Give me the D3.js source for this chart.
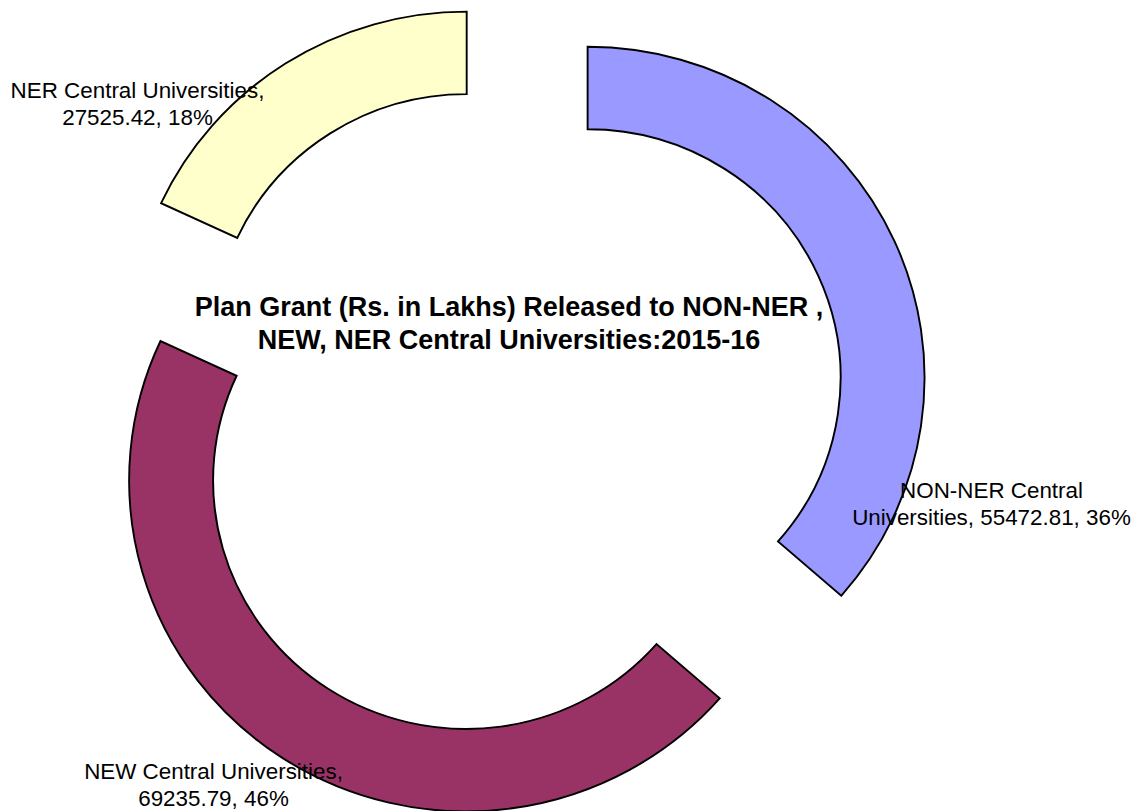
<!DOCTYPE html>
<html>
<head>
<meta charset="utf-8">
<script src="https://cdn.jsdelivr.net/npm/d3@7/dist/d3.min.js"></script>
<style>
  html, body { margin: 0; padding: 0; background: #ffffff; }
  svg { display: block; }
  text { font-family: "Liberation Sans", Arial, Helvetica, sans-serif; fill: #000; }
</style>
</head>
<body>
<svg id="chart" width="1134" height="811"></svg>
<script>
// ---- data ----
const categories = ["NON-NER Central Universities", "NEW Central Universities", "NER Central Universities"];
const values = [55472.81, 69235.79, 27525.42];
const percentLabels = ["36%", "46%", "18%"];
const colors = ["#9999FF", "#993366", "#FFFFCC"];
const titleLines = ["Plan Grant (Rs. in Lakhs) Released to NON-NER ,", "NEW, NER Central Universities:2015-16"];
// data label lines (as shown in the chart)
const labelLines = [
  ["NON-NER Central", "Universities, 55472.81, 36%"],
  ["NEW Central Universities,", "69235.79, 46%"],
  ["NER Central Universities,", "27525.42, 18%"]
];

// ---- layout ----
const W = 1134, H = 811;
const center = { x: 511.6, y: 411.7 };
const outerR = 331, innerR = 248.5, explode = 82, xStretch = 1.018;
const labelPos = [ { x: 991.5, y: 498 }, { x: 213.5, y: 779 }, { x: 137.5, y: 98 } ];
const labelLineH = 27;

const svg = d3.select("#chart");

const pie = d3.pie().sort(null).value(d => d).startAngle(0).endAngle(2 * Math.PI);
const arcs = pie(values);
const arcGen = d3.arc().innerRadius(innerR).outerRadius(outerR);

const g = svg.append("g")
  .attr("transform", `translate(${center.x},${center.y}) scale(${xStretch},1)`);

g.selectAll("path.slice")
  .data(arcs)
  .join("path")
  .attr("class", "slice")
  .attr("d", arcGen)
  .attr("transform", d => {
    const mid = (d.startAngle + d.endAngle) / 2;
    return `translate(${explode * Math.sin(mid)},${-explode * Math.cos(mid)})`;
  })
  .attr("fill", (d, i) => colors[i])
  .attr("stroke", "#000")
  .attr("stroke-width", 1.9)
  .attr("vector-effect", "non-scaling-stroke")
  .attr("stroke-linejoin", "miter");

// data labels
const lg = svg.append("g");
labelLines.forEach((lines, i) => {
  const t = lg.append("text")
    .attr("text-anchor", "middle")
    .attr("font-size", 22)
    .attr("transform", `translate(${labelPos[i].x},${labelPos[i].y}) scale(${xStretch},1)`);
  lines.forEach((ln, j) => {
    t.append("tspan").attr("x", 0).attr("y", j * labelLineH).text(ln);
  });
});

// title
const tt = svg.append("text")
  .attr("text-anchor", "middle")
  .attr("font-size", 27)
  .attr("font-weight", "bold")
  .attr("transform", `translate(509,316)`);
titleLines.forEach((ln, j) => {
  tt.append("tspan").attr("x", 0).attr("y", j * 33).text(ln);
});
</script>
</body>
</html>
